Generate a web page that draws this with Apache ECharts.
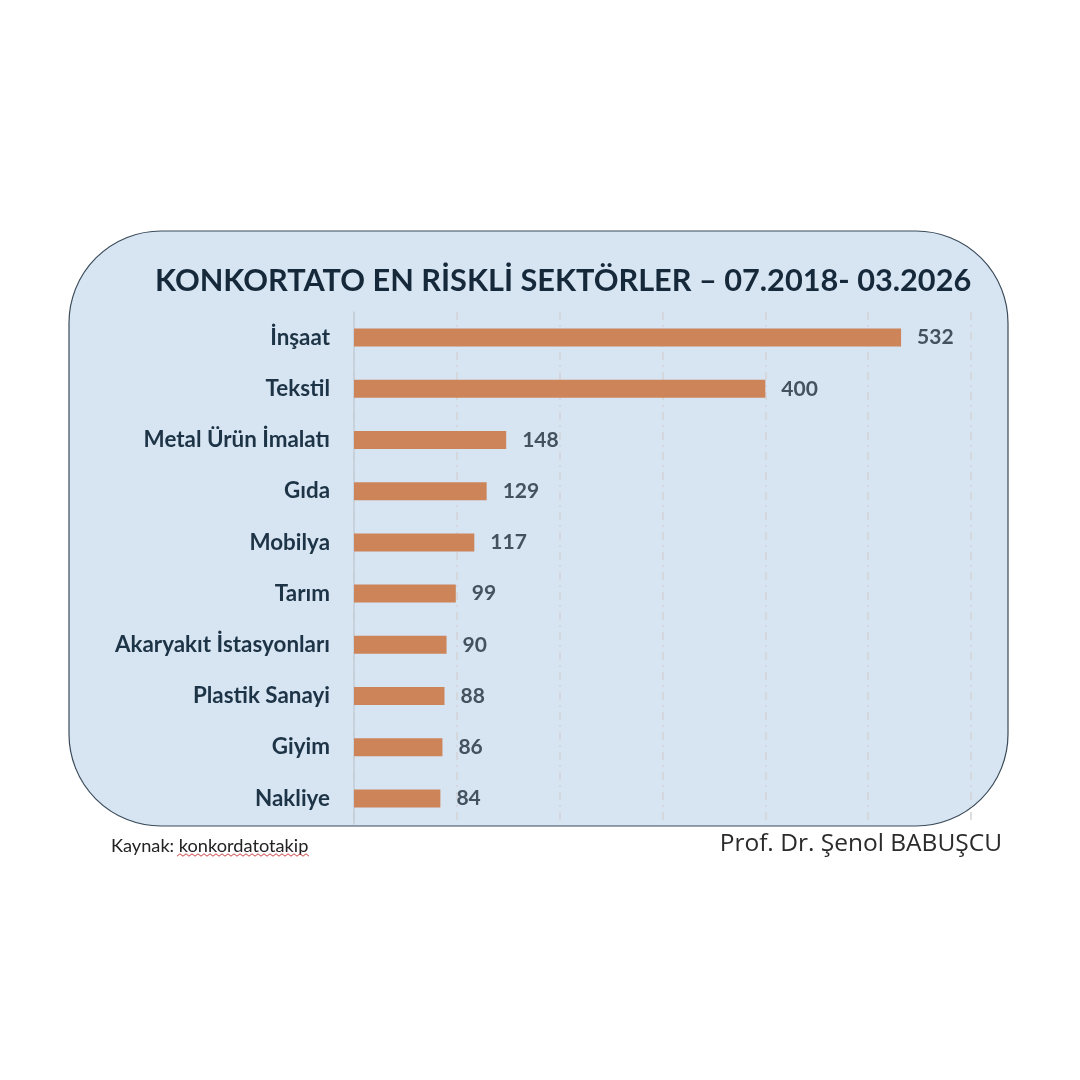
<!DOCTYPE html>
<html><head><meta charset="utf-8">
<style>html,body{margin:0;padding:0;background:#fff}#c{width:1080px;height:1080px}</style>
<script src="https://cdn.jsdelivr.net/npm/echarts@6/dist/echarts.min.js"></script>
</head><body><div id="c"></div>
<script>
const categories = ["İnşaat","Tekstil","Metal Ürün İmalatı","Gıda","Mobilya","Tarım","Akaryakıt İstasyonları","Plastik Sanayi","Giyim","Nakliye"];
const values = [532,400,148,129,117,99,90,88,86,84];
const titleText = "KONKORTATO EN RİSKLİ SEKTÖRLER – 07.2018- 03.2026";
const sourceLabel = "Kaynak: konkordatotakip";
const authorLabel = "Prof. Dr. Şenol BABUŞCU";

const wave = [];
for (let i = 0; i <= 44; i++) wave.push([177 + i * 3, 855 + (i % 2 ? -1.2 : 1.2)]);

const chart = echarts.init(document.getElementById('c'), null, {renderer:'canvas'});
chart.setOption({
  animation:false,
  backgroundColor:'#ffffff',
  textStyle:{fontFamily:'Lato'},
  graphic:[
    {type:'rect',z:-1,shape:{x:69,y:231,width:939,height:595,r:92},
     style:{fill:'#d7e5f3',stroke:'#3a4a58',lineWidth:1.2}},
    {type:'text',left:111,top:837,style:{text:sourceLabel,font:'18.2px Lato',fill:'#222222'}},
    {type:'polyline',shape:{points:wave},style:{stroke:'#c8413f',lineWidth:1,fill:null}},
    {type:'text',right:78,top:832,style:{text:authorLabel,font:'24.5px "Open Sans"',fill:'#2b2b2b'}}
  ],
  title:{text:titleText,left:150,top:261,
    textStyle:{fontFamily:'Lato',fontWeight:'bold',fontSize:30.7,color:'#15293b'}},
  grid:{left:354,top:312,width:617,height:512,containLabel:false},
  xAxis:{type:'value',min:0,max:600,interval:100,
    axisLabel:{show:false},axisTick:{show:false},axisLine:{show:false},
    splitLine:{show:true,lineStyle:{color:'#d3d2d6',width:1.5,type:[8,5,2,5]}}},
  yAxis:{type:'category',data:categories,inverse:true,
    axisTick:{show:false},
    axisLine:{show:true,lineStyle:{color:'#c3ccd6',width:1.5}},
    axisLabel:{margin:24,fontFamily:'Lato',fontWeight:'bold',fontSize:22.4,color:'#1d3346'}},
  series:[{type:'bar',data:values,barWidth:18,
    itemStyle:{color:'#cc8458'},
    label:{show:true,position:'right',distance:16,fontFamily:'Lato',fontWeight:'bold',fontSize:21,color:'#44525f'}}]
});
</script></body></html>
